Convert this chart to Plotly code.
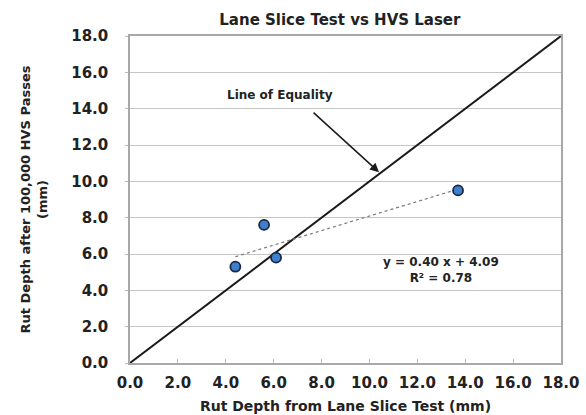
import plotly.graph_objects as go

# Measured rut depths (mm)
lane_slice = [4.4, 5.6, 6.1, 13.7]
hvs_laser = [5.3, 7.6, 5.8, 9.5]

# Linear fit reported on the chart
slope = 0.40
intercept = 4.09
r_squared = 0.78

equality = [0.0, 18.0]
tick_vals = [0, 2, 4, 6, 8, 10, 12, 14, 16, 18]
tick_text = [f"{v:.1f}" for v in tick_vals]

font_family = "DejaVu Sans, Arial, sans-serif"
text_color = "#222222"

fit_x = [min(lane_slice), max(lane_slice)]
fit_y = [slope * x + intercept for x in fit_x]

fig = go.Figure()

fig.add_trace(go.Scatter(
    x=equality, y=equality, mode="lines",
    line=dict(color="#1a1a1a", width=2), showlegend=False, hoverinfo="skip",
))
fig.add_trace(go.Scatter(
    x=fit_x, y=fit_y, mode="lines",
    line=dict(color="#777777", width=1.2, dash="dot"), showlegend=False,
))
fig.add_trace(go.Scatter(
    x=lane_slice, y=hvs_laser, mode="markers",
    marker=dict(size=10, color="#3f7fd0", line=dict(color="#1b2a40", width=1.8)),
    showlegend=False,
))

# Arrow pointing at the equality line
fig.add_annotation(
    x=10.4, y=10.5, xref="x", yref="y",
    ax=-67, ay=-61, text="", showarrow=True,
    arrowhead=2, arrowsize=1.2, arrowwidth=1.5, arrowcolor="#1a1a1a",
)
fig.add_annotation(
    x=6.25, y=14.75, xref="x", yref="y", text="Line of Equality",
    showarrow=False, font=dict(family=font_family, size=12, color=text_color, weight="bold"),
)
fig.add_annotation(
    x=13.0, y=5.1, xref="x", yref="y",
    text=f"y = {slope:.2f} x + {intercept:.2f}<br>R² = {r_squared:.2f}",
    showarrow=False, align="center",
    font=dict(family=font_family, size=12, color=text_color, weight="bold"),
)

axis_common = dict(
    range=[0, 18], tickvals=tick_vals, ticktext=tick_text,
    showline=True, linecolor="#a8a8a8", linewidth=1.5, mirror=True,
    zeroline=False, automargin=False,
    tickfont=dict(family=font_family, size=15, color=text_color, weight="bold"),
)

fig.update_xaxes(
    **axis_common, showgrid=False, ticks="inside", ticklen=4, tickcolor="#bbbbbb",
    ticklabelstandoff=5,
    title=dict(text="Rut Depth from Lane Slice Test (mm)", standoff=10,
               font=dict(family=font_family, size=14, color=text_color, weight="bold")),
)
fig.update_yaxes(
    **axis_common, showgrid=True, gridcolor="#c4c4c4", gridwidth=1,
    ticks="outside", ticklen=3, tickcolor="#bbbbbb", ticklabelstandoff=14,
    title=dict(text="Rut Depth after 100,000 HVS Passes<br>(mm)", standoff=21,
               font=dict(family=font_family, size=13, color=text_color, weight="bold")),
)

fig.update_layout(
    width=586, height=415,
    margin=dict(l=130, r=25, t=36, b=52),
    paper_bgcolor="white", plot_bgcolor="white",
    title=dict(text="Lane Slice Test vs HVS Laser", x=0.58, xanchor="center", y=0.966,
               font=dict(family=font_family, size=15, color=text_color, weight="bold")),
)

fig.write_html("out.html")
